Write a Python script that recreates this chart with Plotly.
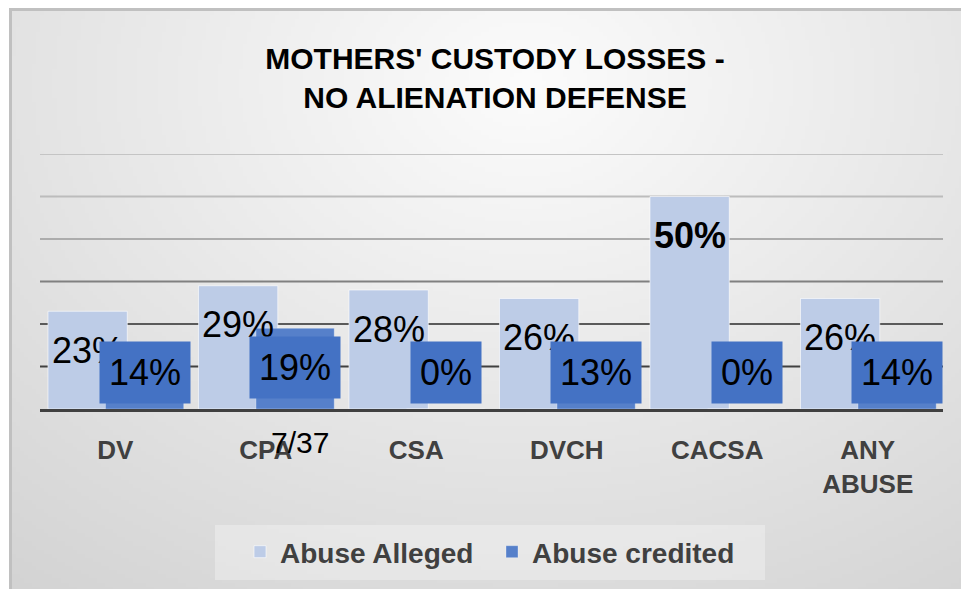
import base64
import struct
import zlib

import numpy as np
import plotly.graph_objects as go

# ---------------- data ----------------
categories = ["DV", "CPA", "CSA", "DVCH", "CACSA", "ANY<br>ABUSE"]
abuse_alleged = [0.23, 0.29, 0.28, 0.26, 0.50, 0.26]
abuse_credited = [0.14, 0.19, 0.00, 0.13, 0.00, 0.14]
alleged_labels = ["23%", "29%", "28%", "26%", "<b>50%</b>", "26%"]
credited_labels = ["14%", "19%", "0%", "13%", "0%", "14%"]
grid_values = [0.1, 0.2, 0.3, 0.4, 0.5, 0.6]
note_text = "7/37"
title_text = "MOTHERS' CUSTODY LOSSES -<br>NO ALIENATION DEFENSE"

# ---------------- geometry / style ----------------
W, H = 961, 589
ML, MR, MT, MB = 40, 18, 154, 180
PW = W - ML - MR
PH = H - MT - MB


def px(xp):
    return (xp - ML) / PW


def py(yp):
    return (H - MB - yp) / PH


ALLEGED_COLOR = "#bdcce7"
CREDITED_COLOR = "#5680ca"
BOX_COLOR = "#4472c4"
TXT_GRAY = "#404040"
FONT = "Liberation Sans, Arial, sans-serif"

A_OFF, A_W = -0.447, 0.527
C_OFF, C_W = -0.065, 0.52


# ---------------- background gradient image ----------------
def gradient_png(w, h):
    yy, xx = np.mgrid[0:h, 0:w].astype(float)
    cx, cy = 0.53 * w, 0.12 * h
    d = np.sqrt(((xx - cx) / (0.85 * w)) ** 2 + ((yy - cy) / (1.05 * h)) ** 2)
    v = 252 - 40 * np.clip(d, 0, 1.2)
    arr = np.clip(v, 0, 255).astype(np.uint8)
    raw = b"".join(b"\x00" + arr[r].tobytes() for r in range(h))

    def chunk(tag, data):
        c = struct.pack(">I", len(data)) + tag + data
        return c + struct.pack(">I", zlib.crc32(tag + data) & 0xFFFFFFFF)

    png = b"\x89PNG\r\n\x1a\n"
    png += chunk(b"IHDR", struct.pack(">IIBBBBB", w, h, 8, 0, 0, 0, 0))
    png += chunk(b"IDAT", zlib.compress(raw, 9))
    png += chunk(b"IEND", b"")
    return "data:image/png;base64," + base64.b64encode(png).decode()


bg_src = gradient_png(240, 146)

fig = go.Figure()

fig.add_trace(go.Bar(
    name="Abuse Alleged",
    x=categories, y=abuse_alleged,
    width=A_W, offset=A_OFF,
    marker=dict(color=ALLEGED_COLOR, line=dict(color="rgba(255,255,255,0.6)", width=1)),
    hoverinfo="skip",
))
fig.add_trace(go.Bar(
    name="Abuse credited",
    x=categories, y=abuse_credited,
    width=C_W, offset=C_OFF,
    marker=dict(color=CREDITED_COLOR, line=dict(color="rgba(255,255,255,0.3)", width=1)),
    hoverinfo="skip",
))

annotations = []
for i, (v, t) in enumerate(zip(abuse_alleged, alleged_labels)):
    annotations.append(dict(
        x=i + A_OFF + A_W / 2, y=v, xref="x", yref="y",
        text=t, showarrow=False, yanchor="middle", xanchor="center",
        yshift=-39, font=dict(family=FONT, size=36, color="black"),
    ))
for i, (v, t) in enumerate(zip(abuse_credited, credited_labels)):
    annotations.append(dict(
        x=i + C_OFF + C_W / 2, y=0, xref="x", yref="y",
        text=t, showarrow=False, yanchor="middle", xanchor="center",
        yshift=42 if i == 1 else 36.5,
        bgcolor=BOX_COLOR, borderpad=9, height=43,
        font=dict(family=FONT, size=36, color="black"),
    ))
annotations.append(dict(
    x=1 + 34 / 150, y=0, xref="x", yref="y", text=note_text, showarrow=False,
    yanchor="middle", xanchor="center", yshift=-33,
    font=dict(family=FONT, size=30, color="black"),
))

grid_colors = ["#404040", "#5a5a5a", "#808080", "#acacac", "#bcbcbc", "#c4c4c4"]
shapes = []
# card border (top and left visible)
shapes.append(dict(type="rect", xref="paper", yref="paper",
                   x0=px(10.5), x1=px(990), y0=py(9.5), y1=py(620),
                   line=dict(color="#c0c0c0", width=3), fillcolor="rgba(0,0,0,0)",
                   layer="below"))
# legend panel
shapes.append(dict(type="rect", xref="paper", yref="paper",
                   x0=px(215), x1=px(765), y0=py(580), y1=py(525),
                   line=dict(width=0), fillcolor="rgba(255,255,255,0.3)", layer="below"))
for gv, gc in zip(grid_values, grid_colors):
    shapes.append(dict(type="line", xref="paper", yref="y", x0=0, x1=1, y0=gv, y1=gv,
                       line=dict(color=gc, width=2), layer="below"))

fig.update_layout(
    width=W, height=H,
    margin=dict(l=ML, r=MR, t=MT, b=MB),
    paper_bgcolor="white",
    plot_bgcolor="rgba(0,0,0,0)",
    barmode="overlay",
    title=dict(text=title_text, x=px(495), xref="paper", xanchor="center",
               y=1 - 69 / H, yref="container", yanchor="middle",
               font=dict(family=FONT, size=30, color="black", weight="bold")),
    xaxis=dict(type="category", showgrid=False, showline=True, linecolor=TXT_GRAY,
               linewidth=3, ticks="", ticklabelstandoff=16,
               tickfont=dict(family=FONT, size=26, color=TXT_GRAY, weight="bold"),
               range=[-0.5, len(categories) - 0.5], fixedrange=True),
    yaxis=dict(range=[0, 0.6], showgrid=False, showticklabels=False, zeroline=False,
               fixedrange=True),
    legend=dict(orientation="h", x=px(240), xanchor="left", y=py(552), yanchor="middle",
                bgcolor="rgba(0,0,0,0)", entrywidth=207, itemwidth=30,
                font=dict(family=FONT, size=28, color=TXT_GRAY, weight="bold"),
                itemclick=False, itemdoubleclick=False),
    annotations=annotations,
    shapes=shapes,
    images=[dict(source=bg_src, xref="paper", yref="paper", x=px(10), y=py(9),
                 sizex=(W + 20 - 10) / PW, sizey=(H + 20 - 9) / PH,
                 xanchor="left", yanchor="top", sizing="stretch", layer="below")],
    hovermode=False,
)

fig.write_html("out.html", config={"displayModeBar": False},
               post_script="document.body.style.margin='0px';document.body.style.overflow='hidden';")
